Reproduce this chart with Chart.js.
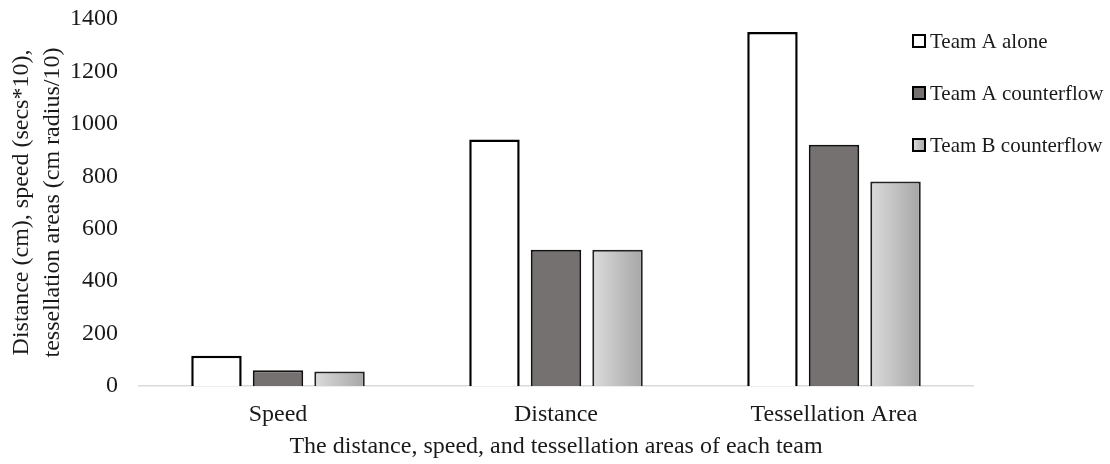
<!DOCTYPE html>
<html lang="en">
<head>
<meta charset="UTF-8">
<title>Distance, speed and tessellation areas of each team</title>
<script src="https://cdn.jsdelivr.net/npm/chart.js"></script>
<style>
  html, body { margin: 0; padding: 0; background: #fff; }
</style>
</head>
<body>
<canvas id="chart" width="1110" height="464"></canvas>
<script>
    const categories = ['Speed', 'Distance', 'Tessellation Area'];
    const seriesNames = ['Team A alone', 'Team A counterflow', 'Team B counterflow'];
    const teamAAlone = [115, 940, 1350];
    const teamACounterflow = [60, 520, 920];
    const teamBCounterflow = [55, 520, 780];
    const yMax = 1400;
    const yStep = 200;

    const textColor = '#1a1a1a';
    Chart.defaults.font.family = '"Liberation Serif", "Times New Roman", serif';
    Chart.defaults.color = textColor;

    // light-to-dark horizontal gradient like the Excel fill on Team B
    function greyGradient(ctx, x0, x1) {
        const g = ctx.createLinearGradient(x0, 0, x1, 0);
        g.addColorStop(0, '#dcdcdc');
        g.addColorStop(1, '#a6a6a6');
        return g;
    }

    function teamBFill(c) {
        if (c.type !== 'data') return '#c4c4c4';
        const el = c.chart.getDatasetMeta(c.datasetIndex).data[c.dataIndex];
        if (!el || !isFinite(el.x) || !el.width) return '#c4c4c4';
        return greyGradient(c.chart.ctx, el.x - el.width / 2, el.x + el.width / 2);
    }

    // legend sits inside the plot on the right, as in the original
    const sideLegend = {
        id: 'sideLegend',
        afterDraw(chart) {
            const ctx = chart.ctx;
            ctx.save();
            ctx.font = '21px "Liberation Serif", "Times New Roman", serif';
            ctx.textBaseline = 'middle';
            chart.data.datasets.forEach((ds, i) => {
                const x = 913;
                const y = 41 + i * 52;
                ctx.fillStyle = i === 2 ? greyGradient(ctx, x, x + 12) : ds.backgroundColor;
                ctx.fillRect(x, y - 6, 12, 12);
                ctx.lineWidth = 2;
                ctx.strokeStyle = '#000';
                ctx.strokeRect(x, y - 6, 12, 12);
                ctx.fillStyle = textColor;
                ctx.fillText(ds.label, x + 17, y + 1);
            });
            ctx.restore();
        }
    };

    const chart = new Chart(document.getElementById('chart'), {
        type: 'bar',
        data: {
            labels: categories,
            datasets: [
                {
                    label: seriesNames[0],
                    data: teamAAlone,
                    backgroundColor: '#ffffff',
                    borderColor: '#000000',
                    borderWidth: 2.5
                },
                {
                    label: seriesNames[1],
                    data: teamACounterflow,
                    backgroundColor: '#767171',
                    borderColor: '#111111',
                    borderWidth: 2
                },
                {
                    label: seriesNames[2],
                    data: teamBCounterflow,
                    backgroundColor: teamBFill,
                    borderColor: '#222222',
                    borderWidth: 2
                }
            ]
        },
        options: {
            responsive: false,
            animation: false,
            categoryPercentage: 0.664,
            barPercentage: 0.82,
            layout: { padding: { top: 1, right: 137, bottom: 0, left: 0 } },
            plugins: {
                legend: { display: false },
                tooltip: { enabled: false }
            },
            scales: {
                x: {
                    grid: { display: false, drawTicks: false },
                    border: { display: true, color: '#d9d9d9', width: 1.5 },
                    ticks: { font: { size: 24 }, padding: 14, color: textColor },
                    title: {
                        display: true,
                        text: 'The distance, speed, and tessellation areas of each team',
                        font: { size: 24 },
                        color: textColor,
                        padding: { top: 4, bottom: 3 }
                    },
                    afterFit(scale) { scale.height = 78; }
                },
                y: {
                    min: 0,
                    max: yMax,
                    grid: { display: false, drawTicks: false },
                    border: { display: false },
                    ticks: {
                        stepSize: yStep,
                        padding: 21,
                        font: { size: 24 },
                        color: textColor,
                        callback: v => String(v)
                    },
                    title: {
                        display: true,
                        text: ['Distance (cm), speed (secs*10),', 'tessellation areas (cm radius/10)'],
                        font: { size: 24, lineHeight: 1.29 },
                        color: textColor,
                        padding: { top: 6, bottom: 0 }
                    },
                    afterFit(scale) {
                        scale.width = 139;
                        // tick padding is horizontal here; keep it from pushing the plot down
                        scale.paddingTop = 19;
                        scale.paddingBottom = 0;
                    }
                }
            }
        },
        plugins: [sideLegend]
    });

    // second pass so the gradient can use the laid-out bar positions
    chart.update();
</script>
</body>
</html>
